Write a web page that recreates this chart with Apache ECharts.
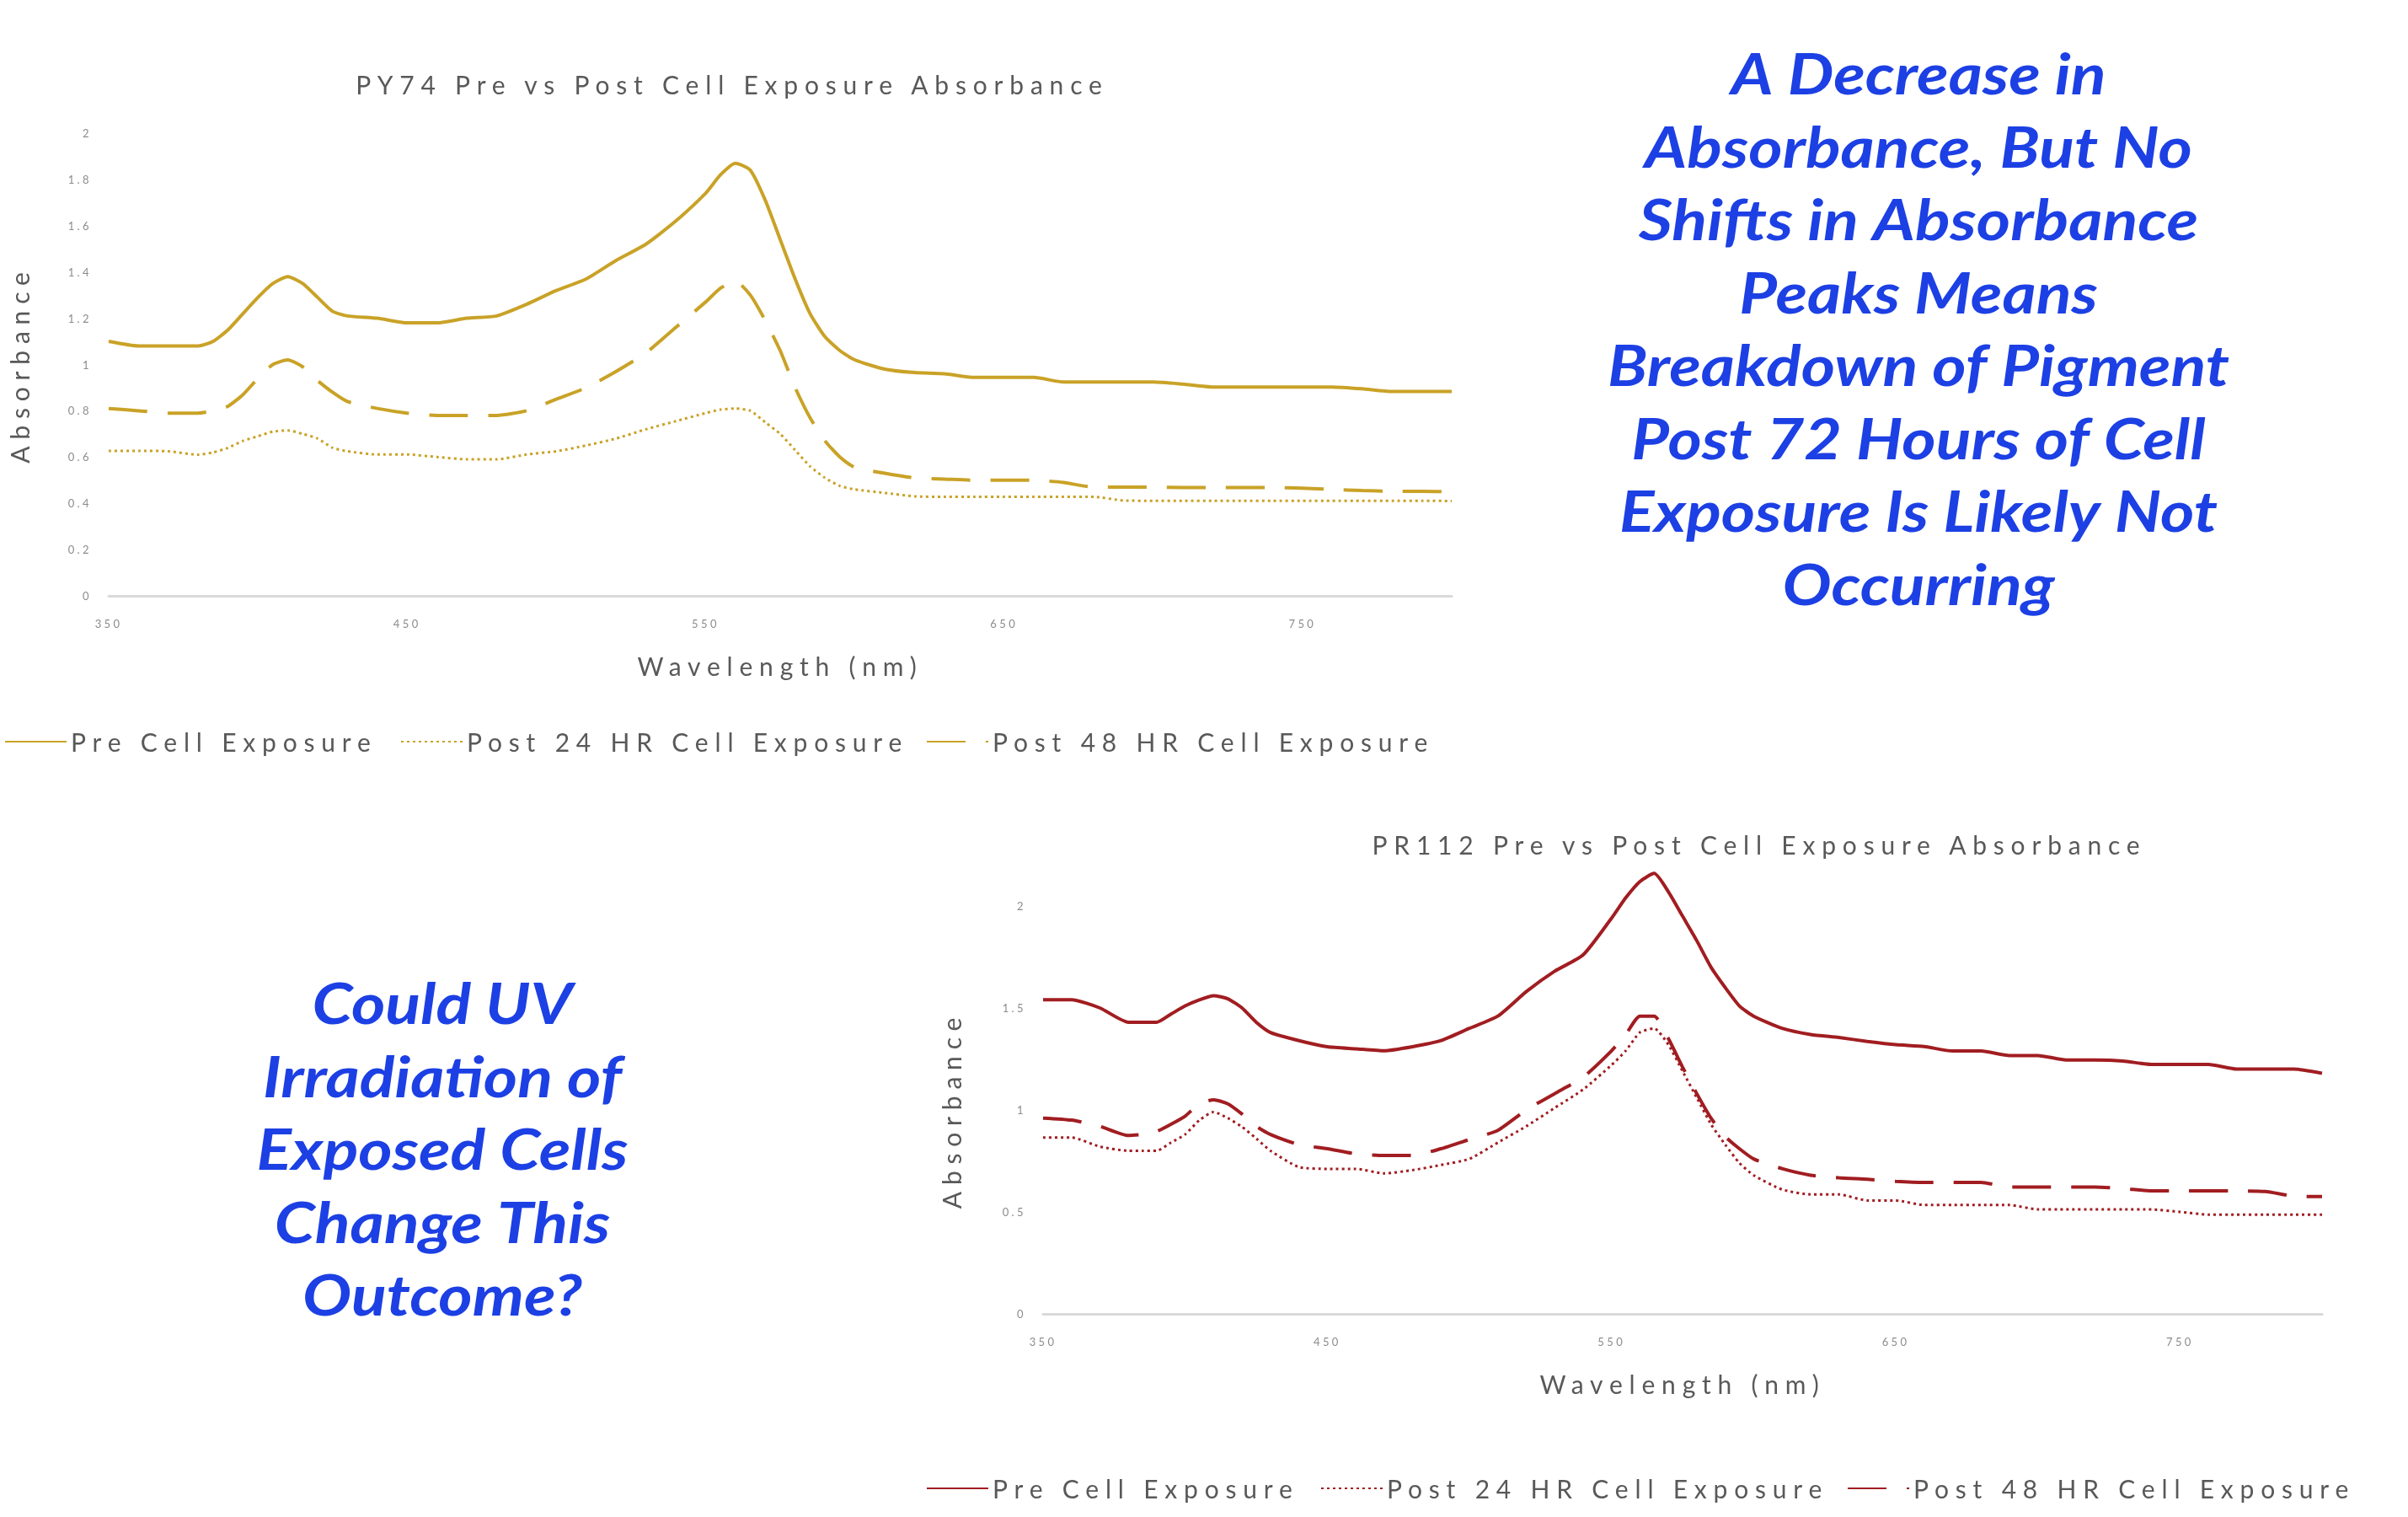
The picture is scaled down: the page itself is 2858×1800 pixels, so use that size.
<!DOCTYPE html>
<html>
<head>
<meta charset="utf-8">
<title>Pigment absorbance before and after cell exposure</title>
<script src="https://cdn.jsdelivr.net/npm/echarts@6/dist/echarts.min.js"></script>
<style>
  html, body { margin: 0; padding: 0; background: #ffffff; }
  #page { position: relative; width: 2858px; height: 1800px; overflow: hidden; }
  .layer { position: absolute; left: 0; top: 0; width: 2858px; height: 1800px; }
  /* chart lettering is set wide, as on the slide */
  .spaced text { letter-spacing: 0.26em; }
</style>
</head>
<body>
<div id="page">
  <div id="notes" class="layer"></div>
  <div id="py74" class="layer spaced"></div>
  <div id="pr112" class="layer spaced"></div>
</div>
<script>
// Wavelength grid (nm) shared by both spectra
const wavelengths = [350,360,370,380,385,390,395,400,405,410,415,420,425,430,440,450,460,470,480,490,500,510,520,530,540,550,555,560,565,570,575,580,585,590,595,600,610,620,630,640,650,660,670,680,690,700,710,720,730,740,750,760,770,780,790,800];

const seriesNames = ['Pre Cell Exposure', 'Post 24 HR Cell Exposure', 'Post 48 HR Cell Exposure'];

// PY74 absorbance
const py74Pre    = [1.10,1.08,1.08,1.08,1.10,1.15,1.22,1.29,1.35,1.38,1.35,1.29,1.23,1.21,1.20,1.18,1.18,1.20,1.21,1.26,1.32,1.37,1.45,1.52,1.62,1.74,1.82,1.87,1.84,1.71,1.54,1.37,1.22,1.12,1.06,1.02,0.98,0.965,0.96,0.944,0.944,0.944,0.924,0.924,0.924,0.924,0.915,0.903,0.903,0.903,0.903,0.903,0.895,0.883,0.883,0.883];
const py74Post24 = [0.627,0.627,0.625,0.61,0.62,0.64,0.67,0.69,0.71,0.715,0.70,0.68,0.64,0.625,0.611,0.611,0.60,0.59,0.59,0.611,0.625,0.65,0.68,0.72,0.755,0.79,0.805,0.81,0.80,0.75,0.70,0.63,0.56,0.51,0.475,0.46,0.445,0.43,0.428,0.428,0.428,0.428,0.428,0.428,0.412,0.411,0.411,0.411,0.411,0.411,0.411,0.411,0.411,0.411,0.411,0.41];
const py74Post48 = [0.81,0.80,0.79,0.79,0.80,0.82,0.87,0.94,1.00,1.02,0.99,0.93,0.88,0.84,0.81,0.79,0.78,0.78,0.78,0.80,0.85,0.90,0.97,1.05,1.16,1.27,1.33,1.36,1.30,1.19,1.06,0.90,0.77,0.67,0.60,0.555,0.53,0.51,0.505,0.50,0.50,0.50,0.49,0.47,0.47,0.47,0.468,0.468,0.468,0.468,0.465,0.46,0.455,0.452,0.452,0.45];

// PR112 absorbance
const pr112Pre    = [1.54,1.54,1.50,1.43,1.43,1.43,1.47,1.51,1.54,1.56,1.545,1.50,1.43,1.38,1.34,1.31,1.30,1.29,1.31,1.34,1.40,1.46,1.58,1.68,1.76,1.94,2.04,2.12,2.16,2.07,1.95,1.83,1.70,1.60,1.51,1.46,1.40,1.37,1.355,1.336,1.32,1.311,1.289,1.289,1.267,1.267,1.245,1.245,1.24,1.223,1.223,1.223,1.20,1.20,1.20,1.18];
const pr112Post24 = [0.865,0.865,0.82,0.80,0.80,0.80,0.84,0.88,0.95,0.99,0.96,0.917,0.86,0.80,0.72,0.711,0.711,0.689,0.705,0.73,0.76,0.84,0.92,1.01,1.10,1.22,1.29,1.38,1.40,1.32,1.19,1.06,0.93,0.83,0.74,0.68,0.61,0.586,0.586,0.556,0.556,0.534,0.534,0.534,0.534,0.512,0.512,0.512,0.512,0.512,0.50,0.487,0.487,0.487,0.487,0.487];
const pr112Post48 = [0.96,0.95,0.92,0.875,0.88,0.895,0.93,0.97,1.03,1.05,1.03,0.98,0.92,0.88,0.83,0.81,0.785,0.777,0.777,0.81,0.855,0.90,1.00,1.08,1.16,1.29,1.37,1.46,1.46,1.35,1.21,1.08,0.96,0.87,0.81,0.76,0.712,0.68,0.667,0.66,0.65,0.645,0.645,0.645,0.622,0.622,0.622,0.622,0.615,0.603,0.603,0.603,0.603,0.60,0.578,0.575];

const noteRight = ['A Decrease in', 'Absorbance, But No', 'Shifts in Absorbance', 'Peaks Means', 'Breakdown of Pigment', 'Post 72 Hours of Cell', 'Exposure Is Likely Not', 'Occurring'];
const noteLeft = ['Could UV', 'Irradiation of', 'Exposed Cells', 'Change This', 'Outcome?'];

const FONT = 'Lato, "Open Sans", sans-serif';
const GREY = '#595959';

function pairs(values) {
  return wavelengths.map((w, i) => [w, values[i]]);
}

function spectrumOption(cfg) {
  const lineTypes = ['solid', [3, 4], [46, 24]];
  const widths = [4, 3, 4];
  const data = [cfg.pre, cfg.post24, cfg.post48];
  return {
    animation: false,
    backgroundColor: 'transparent',
    title: {
      text: cfg.title,
      left: cfg.titleX,
      top: cfg.titleTop,
      textAlign: 'center',
      textStyle: { fontFamily: FONT, fontSize: 30, fontWeight: 'normal', color: GREY }
    },
    grid: cfg.grid,
    xAxis: {
      type: 'value',
      min: 350, max: 800, interval: 50,
      name: 'Wavelength (nm)',
      nameLocation: 'middle',
      nameGap: 68,
      nameTextStyle: { fontFamily: FONT, fontSize: 30, color: GREY },
      axisLine: { show: true, lineStyle: { color: '#d9d9d9', width: 3 } },
      axisTick: { show: false },
      splitLine: { show: false },
      axisLabel: {
        margin: 26,
        fontFamily: FONT, fontSize: 13, color: '#8c8c8c',
        formatter: v => ((v - 350) % 100 === 0 && v < 800) ? String(v) : ''
      }
    },
    yAxis: {
      type: 'value',
      min: 0, max: 2, interval: cfg.yInterval,
      name: 'Absorbance',
      nameLocation: 'middle',
      nameRotate: 90,
      nameGap: cfg.yNameGap,
      nameTextStyle: { fontFamily: FONT, fontSize: 30, color: GREY },
      axisLine: { show: false },
      axisTick: { show: false },
      splitLine: { show: false },
      axisLabel: { margin: 20, fontFamily: FONT, fontSize: 13, color: '#8c8c8c' }
    },
    // one legend per entry so each sits where the slide puts it
    legend: seriesNames.map((name, i) => ({
      data: [name],
      left: cfg.legendLefts[i],
      top: cfg.legendTop,
      itemWidth: 73,
      itemHeight: 14,
      selectedMode: false,
      itemStyle: { color: 'transparent', borderColor: 'transparent', borderWidth: 0, opacity: 0 },
      textStyle: { fontFamily: FONT, fontSize: 30, color: GREY }
    })),
    series: seriesNames.map((name, i) => ({
      name: name,
      type: 'line',
      data: pairs(data[i]),
      symbol: 'none',
      smooth: 0.2,
      clip: false,
      lineStyle: { color: cfg.color, width: widths[i], type: lineTypes[i] },
      itemStyle: { color: cfg.color }
    }))
  };
}

const py74 = echarts.init(document.getElementById('py74'), null, { renderer: 'svg', width: 2858, height: 1800 });
py74.setOption(spectrumOption({
  title: 'PY74 Pre vs Post Cell Exposure Absorbance',
  titleX: 864, titleTop: 80,
  grid: { left: 113, right: 1135, top: 158, bottom: 1093 },
  yInterval: 0.2,
  yNameGap: 91,
  color: '#C9A227',
  pre: py74Pre, post24: py74Post24, post48: py74Post48,
  legendLefts: [0, 470, 1094],
  legendTop: 860
}));

const pr112 = echarts.init(document.getElementById('pr112'), null, { renderer: 'svg', width: 2858, height: 1800 });
pr112.setOption(spectrumOption({
  title: 'PR112 Pre vs Post Cell Exposure Absorbance',
  titleX: 2083, titleTop: 982,
  grid: { left: 1238, right: 102, top: 1075, bottom: 241 },
  yInterval: 0.5,
  yNameGap: 94,
  color: '#A11D21',
  pre: pr112Pre, post24: pr112Post24, post48: pr112Post48,
  legendLefts: [1094, 1562, 2187],
  legendTop: 1746
}));

// Slide annotations, set broad like the slide's lettering
const notes = echarts.init(document.getElementById('notes'), null, { renderer: 'canvas', width: 2858, height: 1800 });
const noteStyle = { fontFamily: FONT, fontSize: 66, fontWeight: 'bold', fontStyle: 'italic', fill: '#1c40e4', align: 'center', verticalAlign: 'middle', lineHeight: 86.5 };
notes.setOption({
  animation: false,
  graphic: [
    { type: 'text', x: 2277, y: 393.5, scaleX: 1.17, style: Object.assign({ text: noteRight.join('\n') }, noteStyle) },
    { type: 'text', x: 525, y: 1367, scaleX: 1.17, style: Object.assign({ text: noteLeft.join('\n') }, noteStyle) }
  ]
});
</script>
</body>
</html>
